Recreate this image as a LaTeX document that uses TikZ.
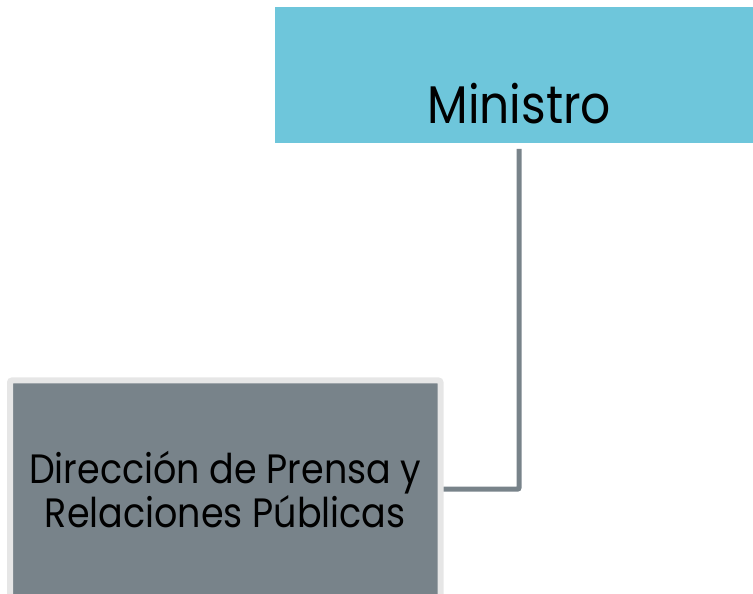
\documentclass[tikz,border=0pt]{standalone}
\usepackage{fontspec}
\setmainfont{Poppins}[FakeStretch=0.89]
\usetikzlibrary{positioning, calc}
\definecolor{boxcyan}{HTML}{6EC6DB}
\definecolor{boxgrey}{HTML}{78838A}
\definecolor{edgegrey}{HTML}{E6E6E6}
\tikzset{
	orgbox/.style = {anchor=south west, inner sep=0pt, align=center, text=black},
	orgline/.style = {draw=boxgrey, line width=5pt, rounded corners=2pt}
}

\begin{document}
\begin{tikzpicture}[x=1pt, y=1pt]
		\useasboundingbox (0, 0) rectangle (753, 594);
		\coordinate (ministro) at (275, 451);
		\coordinate (prensa)   at (7,   -7);

		\node[orgbox, fill=boxcyan, minimum width=488pt, minimum height=136pt, text height=117pt, text depth=19pt, font=\fontsize{53}{53}\selectfont] (MIN) at (ministro) {Ministro};
		\node[orgbox, fill=boxgrey, draw=edgegrey, line width=6pt, rounded corners=2pt, minimum width=430.5pt, minimum height=217.5pt, font=\fontsize{41}{41}\selectfont] (DIR) at (prensa) {Dirección de Prensa y\\Relaciones Públicas};

		\draw[orgline, shorten <=6pt] (MIN.south) |- (DIR.east);

	\end{tikzpicture}
\end{document}
